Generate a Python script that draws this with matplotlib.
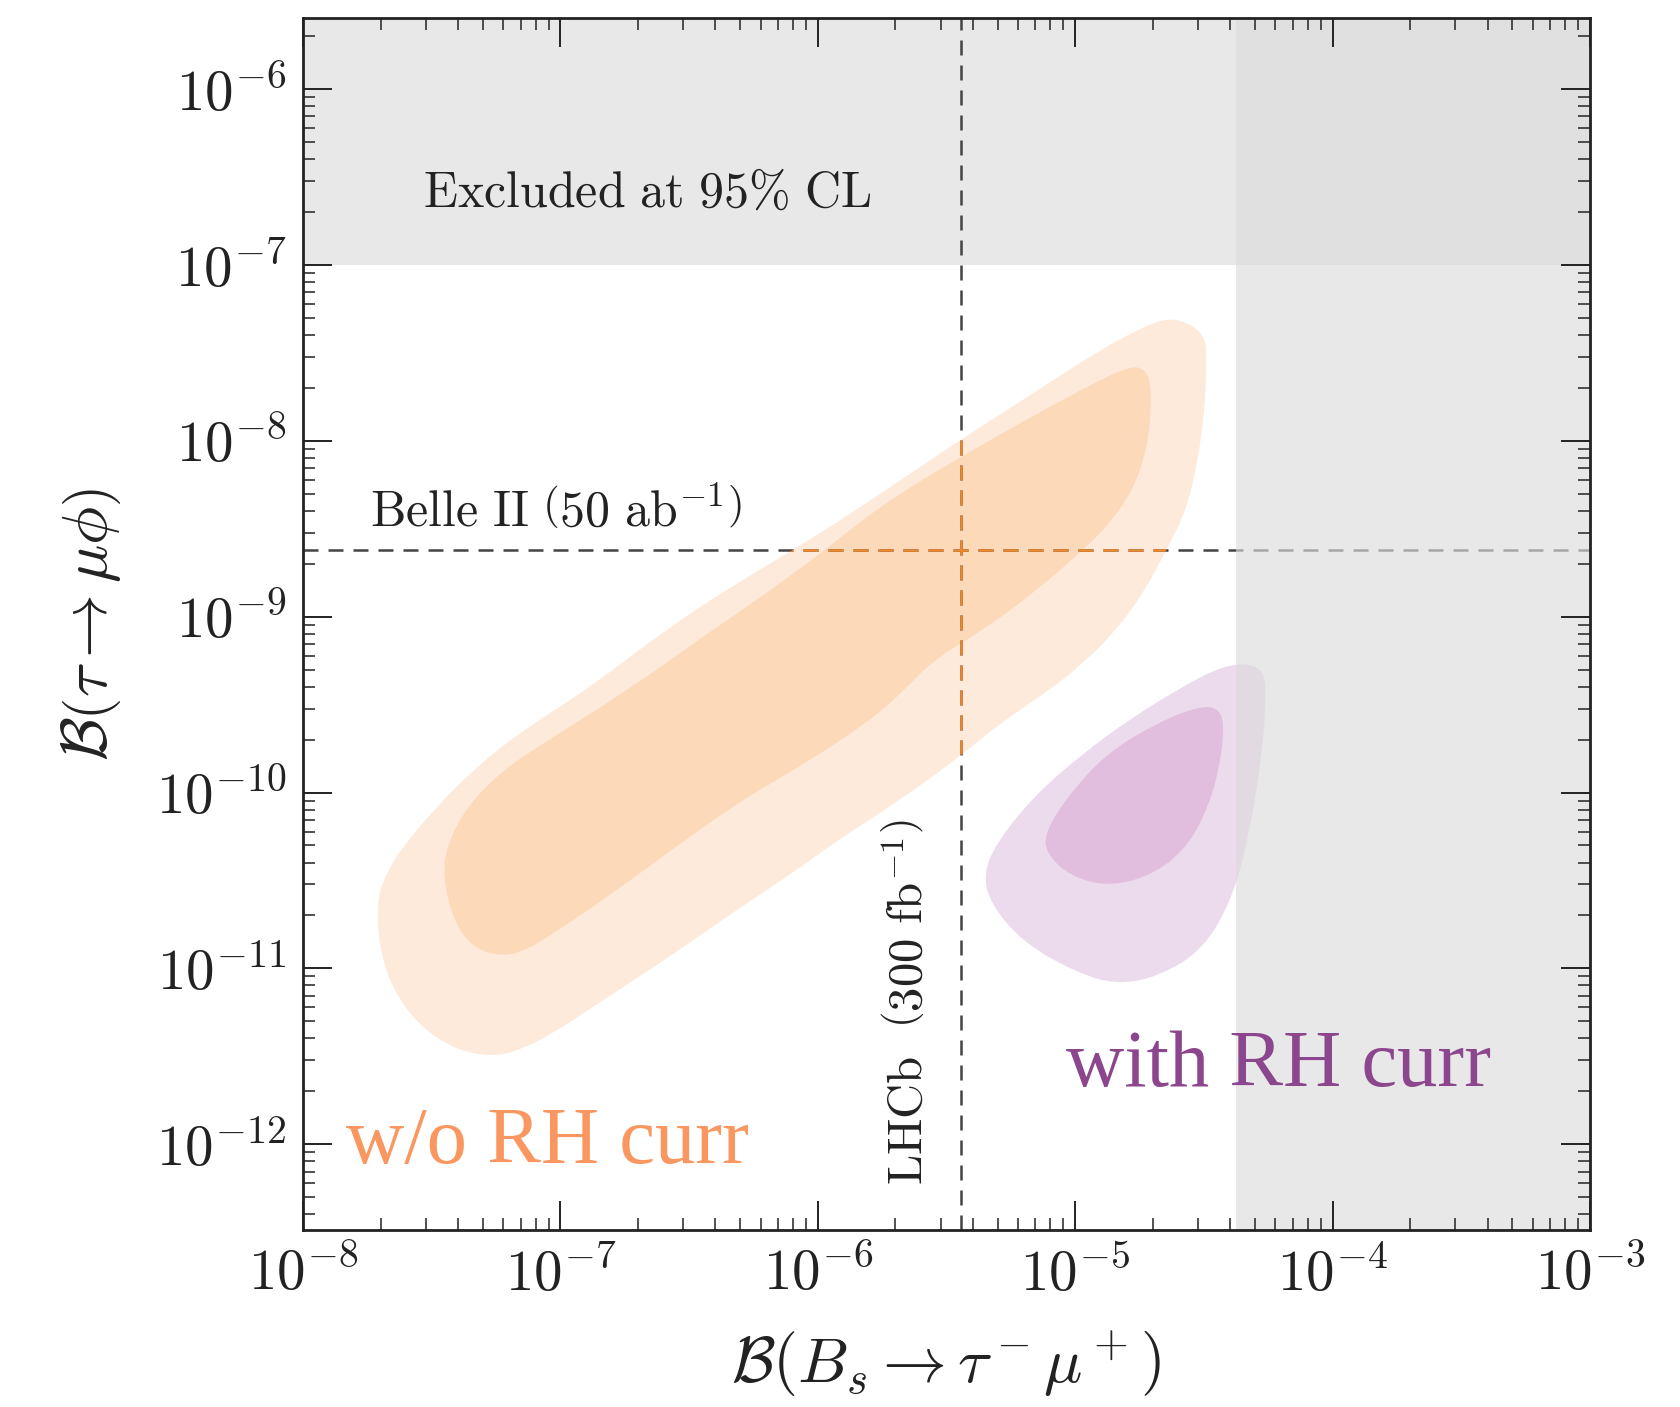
import numpy as np
import matplotlib
matplotlib.use('Agg')
import matplotlib.pyplot as plt
from matplotlib.path import Path
from matplotlib.patches import PathPatch
from matplotlib.ticker import LogLocator, FuncFormatter, NullFormatter, FixedLocator

plt.rcParams['mathtext.fontset'] = 'cm'
plt.rcParams['font.family'] = ['DejaVu Serif']

# axis ranges (branching ratios) and decade ticks
x_range = (1e-8, 1e-3)
y_range = (10 ** -12.487, 10 ** -5.597)
x_ticks = [1e-8, 1e-7, 1e-6, 1e-5, 1e-4, 1e-3]
y_ticks = [1e-12, 1e-11, 1e-10, 1e-9, 1e-8, 1e-7, 1e-6]

# experimental limits
excluded_tau_mu_phi = 1e-7      # B(tau -> mu phi) excluded above, 95% CL
excluded_bs_tau_mu = 4.2e-5     # B(Bs -> tau mu) excluded above, 95% CL
belle2_reach = 2.4e-9           # Belle II, 50 ab^-1
lhcb_reach = 3.6e-6             # LHCb, 300 fb^-1

# allowed regions, outlines in log10(B)
orange_outer_logx = [-4.606, -4.497, -4.488, -4.497, -4.523, -4.568, -4.645, -4.736, -4.840, -4.969,
                     -5.099, -5.293, -5.448, -5.681, -5.941, -6.070, -6.316, -6.575, -6.834, -7.028,
                     -7.158, -7.261, -7.404, -7.546, -7.650, -7.702, -7.714, -7.689, -7.624, -7.481,
                     -7.326, -7.145, -6.899, -6.575, -6.316, -6.070, -5.811, -5.448, -5.164, -4.904,
                     -4.710]
orange_outer_logy = [-7.298, -7.389, -7.541, -7.825, -8.110, -8.394, -8.621, -8.868, -9.076, -9.266,
                     -9.417, -9.607, -9.796, -10.043, -10.289, -10.429, -10.668, -10.933, -11.180, -11.369,
                     -11.464, -11.502, -11.464, -11.331, -11.123, -10.895, -10.649, -10.497, -10.327, -10.081,
                     -9.853, -9.645, -9.417, -9.057, -8.811, -8.599, -8.356, -7.996, -7.731, -7.484,
                     -7.333]

orange_inner_logx = [-4.749, -4.710, -4.704, -4.723, -4.775, -4.866, -4.969, -5.164, -5.358, -5.552,
                     -5.662, -5.811, -6.070, -6.316, -6.640, -6.834, -7.028, -7.132, -7.223, -7.339,
                     -7.417, -7.456, -7.443, -7.365, -7.223, -7.067, -6.737, -6.446, -6.070, -5.746,
                     -5.422, -5.099, -4.904, -4.801]
orange_inner_logy = [-7.579, -7.636, -7.825, -8.053, -8.280, -8.470, -8.621, -8.868, -9.076, -9.247,
                     -9.417, -9.607, -9.853, -10.061, -10.403, -10.611, -10.801, -10.895, -10.933, -10.886,
                     -10.725, -10.479, -10.308, -10.081, -9.872, -9.720, -9.417, -9.114, -8.735, -8.356,
                     -8.072, -7.807, -7.655, -7.588]

purple_outer_logx = [-4.349, -4.276, -4.257, -4.270, -4.320, -4.386, -4.503, -4.682, -4.840, -4.994,
                     -5.202, -5.331, -5.356, -5.306, -5.165, -4.969, -4.774, -4.582, -4.449]
purple_outer_logy = [-9.264, -9.294, -9.398, -9.739, -10.214, -10.592, -10.896, -11.049, -11.091, -11.024,
                     -10.854, -10.629, -10.458, -10.288, -10.026, -9.776, -9.569, -9.398, -9.295]

purple_inner_logx = [-4.449, -4.420, -4.436, -4.478, -4.553, -4.682, -4.865, -5.019, -5.111, -5.119,
                     -5.032, -4.878, -4.682, -4.528]
purple_inner_logy = [-9.514, -9.605, -9.831, -10.062, -10.288, -10.458, -10.537, -10.476, -10.348, -10.233,
                     -10.026, -9.776, -9.605, -9.514]


def smooth_outline(logx, logy):
    # closed quadratic b-spline, control points = outline points
    p = np.column_stack([logx, logy])
    mid = (p + np.roll(p, -1, axis=0)) / 2
    verts = [mid[-1]]
    codes = [Path.MOVETO]
    for i in range(len(p)):
        verts += [p[i], mid[i]]
        codes += [Path.CURVE3, Path.CURVE3]
    verts.append(mid[-1])
    codes.append(Path.CLOSEPOLY)
    return Path(10.0 ** np.array(verts), codes)


fig = plt.figure(figsize=(16.8, 14.07), dpi=100)
ax = fig.add_axes([0.1804, 0.1258, 0.766, 0.8614])
ax.set_xscale('log')
ax.set_yscale('log')
ax.set_xlim(*x_range)
ax.set_ylim(*y_range)

# excluded regions
ax.axhspan(excluded_tau_mu_phi, y_range[1], color='#e8e8e8', lw=0, zorder=0)

orange_out = PathPatch(smooth_outline(orange_outer_logx, orange_outer_logy),
                       facecolor='#fdeada', edgecolor='none', zorder=1)
ax.add_patch(orange_out)
ax.add_patch(PathPatch(smooth_outline(orange_inner_logx, orange_inner_logy),
                       facecolor='#fcd9b9', edgecolor='none', zorder=1.1))
ax.add_patch(PathPatch(smooth_outline(purple_outer_logx, purple_outer_logy),
                       facecolor='#ecdbec', edgecolor='none', zorder=1))
ax.add_patch(PathPatch(smooth_outline(purple_inner_logx, purple_inner_logy),
                       facecolor='#e1bdde', edgecolor='none', zorder=1.1))

dash = (0, (6, 4))
ax.axhline(belle2_reach, color='#444444', lw=1.8, ls=dash, zorder=2)
ax.axvline(lhcb_reach, color='#444444', lw=1.8, ls=dash, zorder=2)
# the sensitivity lines turn orange where they cross the orange region
for ln in (ax.axhline(belle2_reach, color='#f0882c', lw=1.8, ls=dash, zorder=2.1),
           ax.axvline(lhcb_reach, color='#f0882c', lw=1.8, ls=dash, zorder=2.1)):
    ln.set_clip_path(orange_out)

ax.axvspan(excluded_bs_tau_mu, x_range[1], color='#dcdcdc', alpha=0.65, lw=0, zorder=3)

# texts
ax.text(0.0932, 0.844, r'$\mathrm{Excluded\ at\ 95\%\ CL}$', transform=ax.transAxes,
        fontsize=36, color='#222222', ha='left', va='baseline', zorder=5)
ax.text(0.0518, 0.580, r'$\mathrm{Belle\ II}\ \left(50\ \mathrm{ab}^{-1}\right)$', transform=ax.transAxes,
        fontsize=36, color='#222222', ha='left', va='baseline', zorder=5)
ax.text(0.471, 0.037, r'$\mathrm{LHCb}\ \ \left(300\ \mathrm{fb}^{-1}\right)$', transform=ax.transAxes,
        fontsize=35, color='#222222', ha='center', va='bottom', rotation=90, zorder=5)
ax.text(0.0334, 0.0553, 'w/o RH curr', transform=ax.transAxes, family='Liberation Serif',
        fontsize=58, color='#fa965f', ha='left', va='baseline', zorder=5)
ax.text(0.593, 0.1188, 'with RH curr', transform=ax.transAxes, family='Liberation Serif',
        fontsize=58, color='#8c468e', ha='left', va='baseline', zorder=5)

# axes styling
fmt = FuncFormatter(lambda v, pos: r'$10^{%d}$' % int(round(np.log10(v))))
for axis, ticks in ((ax.xaxis, x_ticks), (ax.yaxis, y_ticks)):
    axis.set_major_locator(FixedLocator(ticks))
    axis.set_minor_locator(LogLocator(base=10, subs=np.arange(2, 10), numticks=200))
    axis.set_major_formatter(fmt)
    axis.set_minor_formatter(NullFormatter())
    axis.set_zorder(4)
ax.tick_params(which='both', direction='in', top=True, right=True, color='#222222')
ax.tick_params(which='major', length=21, width=1.4, labelsize=41, pad=12, labelcolor='#222222')
ax.tick_params(which='minor', length=8.5, width=1.1)
for sp in ax.spines.values():
    sp.set_linewidth(2)
    sp.set_color('#222222')
    sp.set_zorder(4)

ax.set_xlabel(r'$\mathcal{B}\left(B_s \rightarrow \tau^- \mu^+\right)$', fontsize=46, color='#222222')
ax.set_ylabel(r'$\mathcal{B}\left(\tau \rightarrow \mu\phi\right)$', fontsize=46, color='#222222')
ax.xaxis.set_label_coords(0.5, -0.082)
ax.yaxis.set_label_coords(-0.14, 0.5)

fig.savefig('out.png', dpi=100)
